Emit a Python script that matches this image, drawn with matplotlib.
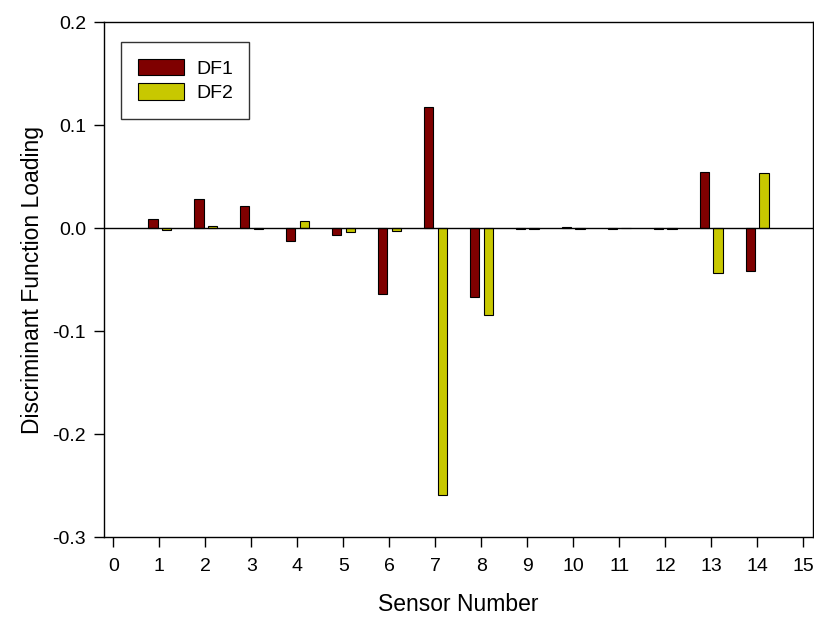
import numpy as np
import matplotlib
matplotlib.use("Agg")
import matplotlib.pyplot as plt

plt.rcParams['font.family'] = ['Liberation Sans', 'DejaVu Sans']

sensors = np.arange(1, 15)
df1 = [0.009, 0.028, 0.022, -0.012, -0.007, -0.064, 0.118, -0.067,
       -0.001, 0.001, -0.001, -0.001, 0.055, -0.042]
df2 = [-0.002, 0.002, -0.001, 0.007, -0.004, -0.003, -0.259, -0.084,
       -0.001, -0.001, 0.0, -0.001, -0.044, 0.054]

fig = plt.figure(figsize=(8.14, 6.18), dpi=100)
ax = fig.add_axes([0.128, 0.131, 0.871, 0.833])

w = 0.2
ax.bar(sensors - 0.14, df1, width=w, color='#7f0000', edgecolor='black',
       linewidth=0.8, label='DF1')
ax.bar(sensors + 0.15, df2, width=w, color='#c8c800', edgecolor='black',
       linewidth=0.8, label='DF2')
ax.axhline(0, color='black', linewidth=1.0)

ax.set_xlim(-0.2, 15.22)
ax.set_ylim(-0.3, 0.2)
ax.set_xticks(range(16))
ax.set_yticks([-0.3, -0.2, -0.1, 0.0, 0.1, 0.2])
ax.yaxis.set_major_formatter(matplotlib.ticker.FormatStrFormatter('%.1f'))
ax.tick_params(direction='out', length=7, width=1, labelsize=14)
ax.tick_params(axis='x', pad=8)
ax.tick_params(axis='y', pad=6)
for s in ax.spines.values():
    s.set_linewidth(1.0)

ax.set_xlabel('Sensor Number', fontsize=16.5, labelpad=13)
ax.set_ylabel('Discriminant Function Loading', fontsize=16.5, labelpad=6)

leg = ax.legend(loc='upper left', bbox_to_anchor=(0.024, 0.961), fontsize=14,
                frameon=True, fancybox=False, edgecolor='black',
                handlelength=2.4, handleheight=0.9, borderpad=0.85,
                labelspacing=0.3, handletextpad=0.6, borderaxespad=0)
leg.get_frame().set_linewidth(1.0)

fig.savefig('out.png', dpi=100)
